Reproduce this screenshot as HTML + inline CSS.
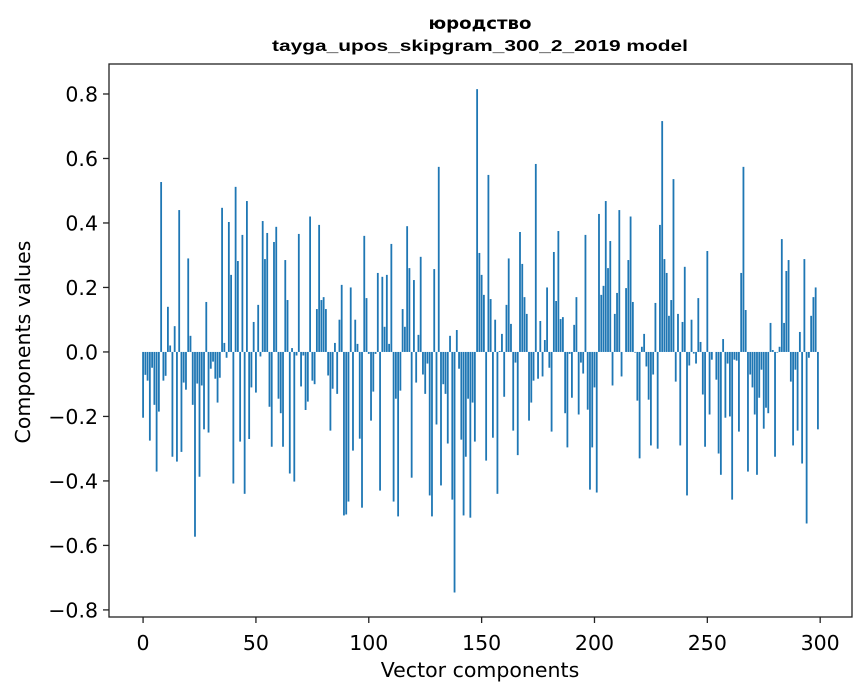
<!DOCTYPE html>
<html><head><meta charset="utf-8"><style>
html,body{margin:0;padding:0;background:#fff;}
svg{display:block;font-family:"DejaVu Sans","Liberation Sans",sans-serif;}
</style></head><body>
<svg id="chart" width="867" height="696" viewBox="0 0 867 696">
<rect x="0" y="0" width="867" height="696" fill="#fff"/>
<text x="480" y="29" text-anchor="middle" font-size="17" font-weight="bold" font-family="'DejaVu Sans','Liberation Sans',sans-serif" textLength="103" lengthAdjust="spacingAndGlyphs">юродство</text>
<text x="480" y="51" text-anchor="middle" font-size="16" font-weight="bold" font-family="'Liberation Sans',sans-serif" textLength="416" lengthAdjust="spacingAndGlyphs">tayga_upos_skipgram_300_2_2019 model</text>
<g id="bars"></g>
<g id="axes"></g>
<text x="480" y="677" text-anchor="middle" font-size="20.5">Vector components</text>
<text transform="translate(30,342) rotate(-90)" text-anchor="middle" font-size="20.5">Components values</text>
</svg>
<script>
const values = [
-0.204,-0.071,-0.089,-0.275,-0.049,-0.164,-0.371,-0.185,0.527,-0.089,
-0.074,0.14,0.02,-0.325,0.08,-0.34,0.44,-0.31,-0.095,-0.117,
0.29,0.05,-0.164,-0.573,-0.098,-0.387,-0.104,-0.24,0.155,-0.25,
-0.052,-0.03,-0.083,-0.157,-0.08,0.447,0.028,-0.018,0.403,0.239,
-0.408,0.512,0.282,-0.278,0.363,-0.44,0.468,-0.27,-0.11,0.093,
-0.126,0.146,-0.014,0.406,0.288,0.369,-0.17,-0.294,0.341,0.388,
-0.145,-0.19,-0.294,0.285,0.161,-0.377,0.012,-0.402,-0.011,0.366,
-0.107,-0.011,-0.18,-0.154,0.42,-0.089,-0.1,0.133,0.394,0.161,
0.17,0.133,-0.073,-0.244,-0.114,0.028,-0.13,0.1,0.208,-0.507,
-0.504,-0.464,0.2,-0.306,0.1,0.025,-0.269,-0.483,0.36,0.167,
-0.006,-0.213,-0.123,-0.006,0.245,-0.43,0.233,0.078,0.239,0.025,
0.335,-0.464,-0.145,-0.51,-0.12,0.133,0.078,0.39,0.26,-0.39,
0.223,-0.095,0.053,0.295,-0.07,-0.13,-0.036,-0.445,-0.51,0.257,
-0.225,0.574,-0.414,-0.1,-0.13,-0.284,0.05,-0.458,-0.746,0.068,
-0.052,-0.272,-0.507,-0.325,-0.145,-0.514,-0.157,-0.278,0.815,0.307,
0.239,0.177,-0.337,0.549,0.164,-0.266,0.1,-0.44,0.003,0.056,
-0.139,0.146,0.29,0.087,-0.244,-0.033,-0.32,0.372,0.273,0.17,
0.118,-0.213,-0.157,-0.089,0.583,-0.083,0.096,-0.076,0.037,0.2,
-0.049,-0.247,0.31,0.158,0.375,0.102,0.108,-0.19,-0.296,-0.006,
-0.142,0.084,0.17,-0.194,-0.033,-0.067,0.363,-0.179,-0.427,-0.296,
-0.11,-0.436,0.428,0.177,0.205,0.468,0.26,0.344,-0.104,0.118,
0.183,0.44,-0.076,0.0,0.198,0.285,0.42,0.155,-0.002,-0.151,
-0.33,0.016,0.056,-0.045,-0.148,-0.29,-0.07,0.152,-0.3,0.394,
0.716,0.288,0.245,0.112,0.161,0.536,-0.092,0.118,-0.29,0.093,
0.264,-0.445,-0.042,0.1,-0.005,-0.036,0.167,0.031,-0.132,-0.294,
0.313,-0.194,-0.024,0.0,-0.086,-0.315,-0.381,0.04,-0.204,-0.036,
-0.2,-0.458,-0.024,-0.027,-0.247,0.245,0.574,0.13,-0.371,-0.07,
-0.11,-0.194,-0.381,-0.142,-0.055,-0.238,-0.173,-0.19,0.09,0.006,
-0.325,-0.002,0.016,0.35,0.09,0.251,0.285,-0.092,-0.29,-0.055,
-0.244,0.062,-0.346,0.288,-0.532,-0.018,0.112,0.17,0.2,-0.24
];
const yTicks = [-0.8,-0.6,-0.4,-0.2,0.0,0.2,0.4,0.6,0.8];
const yTickLabels = ["\u22120.8","\u22120.6","\u22120.4","\u22120.2","0.0","0.2","0.4","0.6","0.8"];
const xTicks = [0,50,100,150,200,250,300];
const xTickLabels = ["0","50","100","150","200","250","300"];

const NS="http://www.w3.org/2000/svg";
const L=109,R=852,T=64,B=617;
const xMin=-15.1,xMax=314.1,yMin=-0.822,yMax=0.893;
function xs(v){return L+(v-xMin)/(xMax-xMin)*(R-L);}
function ys(v){return B-(v-yMin)/(yMax-yMin)*(B-T);}
const bars=document.getElementById('bars');
const bw=xs(0.8)-xs(0);
values.forEach((v,i)=>{
  const r=document.createElementNS(NS,'rect');
  const y0=ys(0),y1=ys(v);
  r.setAttribute('x',xs(i)-bw/2);
  r.setAttribute('y',Math.min(y0,y1));
  r.setAttribute('width',bw);
  r.setAttribute('height',Math.max(Math.abs(y1-y0),0.01));
  r.setAttribute('fill','#1f77b4');
  
  
  bars.appendChild(r);
});
const ax=document.getElementById('axes');
const frame=document.createElementNS(NS,'rect');
frame.setAttribute('x',L);frame.setAttribute('y',T);
frame.setAttribute('width',R-L);frame.setAttribute('height',B-T);
frame.setAttribute('fill','none');frame.setAttribute('stroke','#222');frame.setAttribute('stroke-width','1.3');


ax.appendChild(frame);
yTicks.forEach((t,k)=>{
  const y=ys(t);
  const ln=document.createElementNS(NS,'line');
  ln.setAttribute('x1',L-6);ln.setAttribute('x2',L);ln.setAttribute('y1',y);ln.setAttribute('y2',y);
  ln.setAttribute('stroke','#222');ln.setAttribute('stroke-width','1.3');
  
  
  ax.appendChild(ln);
  const tx=document.createElementNS(NS,'text');
  tx.setAttribute('x',L-11);tx.setAttribute('y',y+7.5);
  tx.setAttribute('text-anchor','end');tx.setAttribute('font-size','20.5');
  tx.textContent=yTickLabels[k];
  
  
  ax.appendChild(tx);
});
xTicks.forEach((t,k)=>{
  const x=xs(t);
  const ln=document.createElementNS(NS,'line');
  ln.setAttribute('x1',x);ln.setAttribute('x2',x);ln.setAttribute('y1',B);ln.setAttribute('y2',B+6);
  ln.setAttribute('stroke','#222');ln.setAttribute('stroke-width','1.3');
  
  
  ax.appendChild(ln);
  const tx=document.createElementNS(NS,'text');
  tx.setAttribute('x',x);tx.setAttribute('y',650);
  tx.setAttribute('text-anchor','middle');tx.setAttribute('font-size','20.5');
  tx.textContent=xTickLabels[k];
  
  
  ax.appendChild(tx);
});
</script>
</body></html>
